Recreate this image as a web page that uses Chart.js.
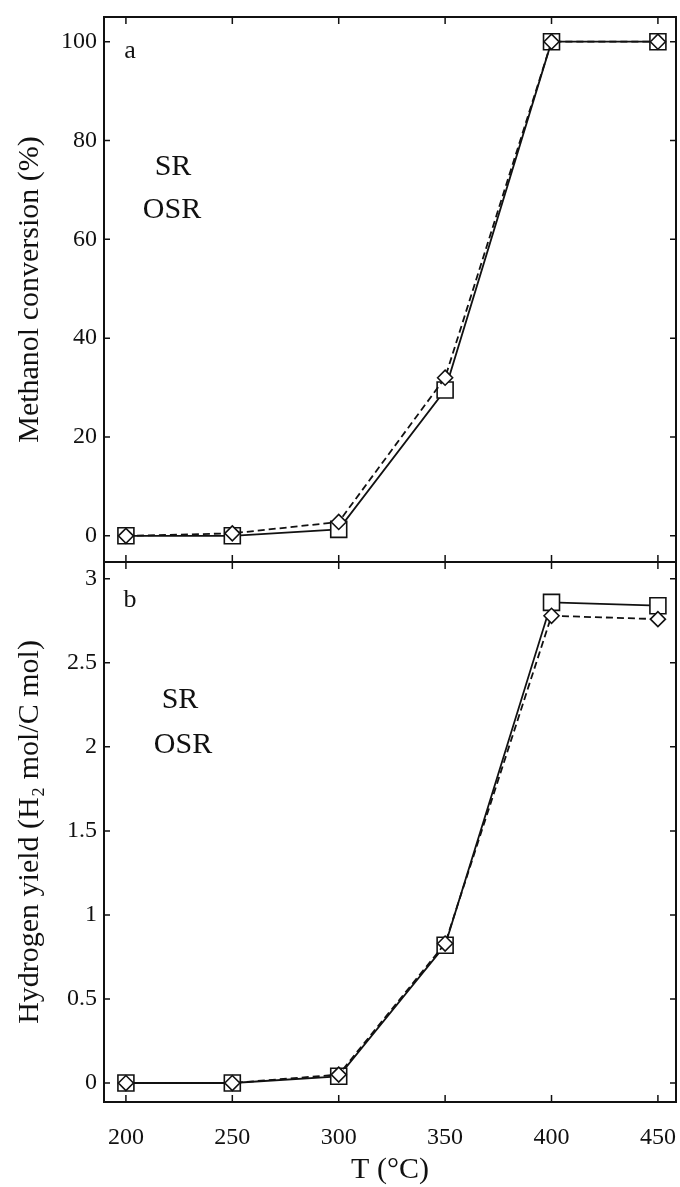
<!DOCTYPE html>
<html>
<head>
<meta charset="utf-8">
<script src="https://cdn.jsdelivr.net/npm/chart.js@4.4.0/dist/chart.umd.min.js"></script>
<style>
  body { margin: 0; background: #fff; }
  #wrap { position: relative; width: 680px; height: 1187px; }
  #top { position: absolute; left: 0; top: 0; }
  #bottom { position: absolute; left: 0; top: 540px; }
</style>
</head>
<body>
<div id="wrap">
  <canvas id="top" width="680" height="580"></canvas>
  <canvas id="bottom" width="680" height="647"></canvas>
</div>
<script>
/* data */
const temps = [200, 250, 300, 350, 400, 450];
const convSR = [0, 0, 1.3, 29.5, 100, 100];
const convOSR = [0, 0.5, 2.8, 32, 100, 100];
const yieldSR = [0, 0, 0.04, 0.82, 2.86, 2.84];
const yieldOSR = [0, 0, 0.05, 0.83, 2.78, 2.76];

const xTicks = [200, 250, 300, 350, 400, 450];
const convTicks = [0, 20, 40, 60, 80, 100];
const yieldTicks = [0, 0.5, 1, 1.5, 2, 2.5, 3];

const serif = "'Liberation Serif', 'Times New Roman', serif";
const ink = '#111';

function pts(ys) {
    return temps.map((t, i) => ({x: t, y: ys[i]}));
}

/* box frame, inward ticks, panel letter and SR/OSR labels */
const framePlugin = {
    id: 'frame',
    afterDraw(chart, args, opts) {
        const {ctx, chartArea: a, scales} = chart;
        ctx.save();
        ctx.strokeStyle = ink;
        ctx.lineWidth = 2;
        ctx.strokeRect(a.left, a.top, a.right - a.left, a.bottom - a.top);

        ctx.lineWidth = 1.5;
        ctx.beginPath();
        scales.x.ticks.forEach(t => {
            const px = scales.x.getPixelForValue(t.value);
            ctx.moveTo(px, a.bottom); ctx.lineTo(px, a.bottom - 7);
            ctx.moveTo(px, a.top); ctx.lineTo(px, a.top + 7);
        });
        scales.y.ticks.forEach(t => {
            const py = scales.y.getPixelForValue(t.value);
            ctx.moveTo(a.left, py); ctx.lineTo(a.left + 6, py);
            ctx.moveTo(a.right, py); ctx.lineTo(a.right - 6, py);
        });
        ctx.stroke();

        ctx.fillStyle = ink;
        ctx.textAlign = 'center';
        ctx.textBaseline = 'middle';
        ctx.font = `26px ${serif}`;
        ctx.fillText(opts.letter, a.left + 26, a.top + opts.letterDy);
        ctx.font = `30px ${serif}`;
        opts.labels.forEach(l => ctx.fillText(l.text, a.left + l.dx, a.top + l.dy));
        ctx.restore();
    }
};

function makeChart(id, cfg) {
    return new Chart(document.getElementById(id), {
        type: 'line',
        data: {
            datasets: [{
                label: 'OSR',
                data: pts(cfg.osr),
                borderColor: ink,
                borderWidth: 1.8,
                borderDash: [7, 4],
                pointStyle: 'rectRot',
                pointRadius: 7.5,
                pointBorderWidth: 1.6,
                pointBorderColor: ink,
                pointBackgroundColor: '#fff',
                tension: 0
            }, {
                label: 'SR',
                data: pts(cfg.sr),
                borderColor: ink,
                borderWidth: 1.8,
                pointStyle: 'rect',
                pointRadius: 11.3,
                pointBorderWidth: 1.6,
                pointBorderColor: ink,
                pointBackgroundColor: '#fff',
                tension: 0
            }]
        },
        options: {
            responsive: false,
            animation: false,
            layout: {padding: cfg.padding, autoPadding: false},
            plugins: {
                legend: {display: false},
                tooltip: {enabled: false},
                frame: cfg.frame
            },
            scales: {
                x: {
                    type: 'linear',
                    min: 189.7,
                    max: 458.5,
                    afterBuildTicks: s => { s.ticks = xTicks.map(v => ({value: v})); },
                    afterFit: s => {
                        s.height = cfg.xHeight;
                        s.paddingLeft = 0;
                        s.paddingRight = 0;
                    },
                    grid: {display: false, drawTicks: false},
                    border: {display: false},
                    ticks: {display: cfg.showX, padding: 21, color: ink, font: {family: serif, size: 24}},
                    title: {
                        display: cfg.showX,
                        text: 'T (°C)',
                        color: ink,
                        font: {family: serif, size: 30, lineHeight: 1.1},
                        padding: {top: 0, bottom: 0}
                    }
                },
                y: {
                    min: cfg.yMin,
                    max: cfg.yMax,
                    afterBuildTicks: s => { s.ticks = cfg.yTicks.map(v => ({value: v})); },
                    afterFit: s => {
                        s.width = 104;
                        s.paddingTop = 0;
                        s.paddingBottom = 0;
                    },
                    grid: {display: false, drawTicks: false},
                    border: {display: false},
                    ticks: {
                        padding: 7,
                        color: ink,
                        font: {family: serif, size: 24},
                        callback: v => String(v)
                    },
                    title: {
                        display: true,
                        text: cfg.yTitle,
                        color: ink,
                        font: {family: serif, size: 30, lineHeight: 1.2},
                        padding: {top: 12, bottom: 0}
                    }
                }
            }
        },
        plugins: [framePlugin]
    });
}

/* panel a: methanol conversion */
makeChart('top', {
    sr: convSR,
    osr: convOSR,
    yMin: -5.3,
    yMax: 105,
    yTicks: convTicks,
    yTitle: 'Methanol conversion (%)',
    showX: false,
    xHeight: 0,
    padding: {top: 17, right: 4, bottom: 18, left: 0},
    frame: {letter: 'a', letterDy: 34, labels: [{text: 'SR', dx: 69, dy: 150}, {text: 'OSR', dx: 68, dy: 193}]}
});

/* panel b: hydrogen yield */
makeChart('bottom', {
    sr: yieldSR,
    osr: yieldOSR,
    yMin: -0.113,
    yMax: 3.1,
    yTicks: yieldTicks,
    yTitle: 'Hydrogen yield (H₂ mol/C mol)',
    showX: true,
    xHeight: 85,
    padding: {top: 22, right: 4, bottom: 0, left: 0},
    frame: {letter: 'b', letterDy: 38, labels: [{text: 'SR', dx: 76, dy: 138}, {text: 'OSR', dx: 79, dy: 183}]}
});
</script>
</body>
</html>
